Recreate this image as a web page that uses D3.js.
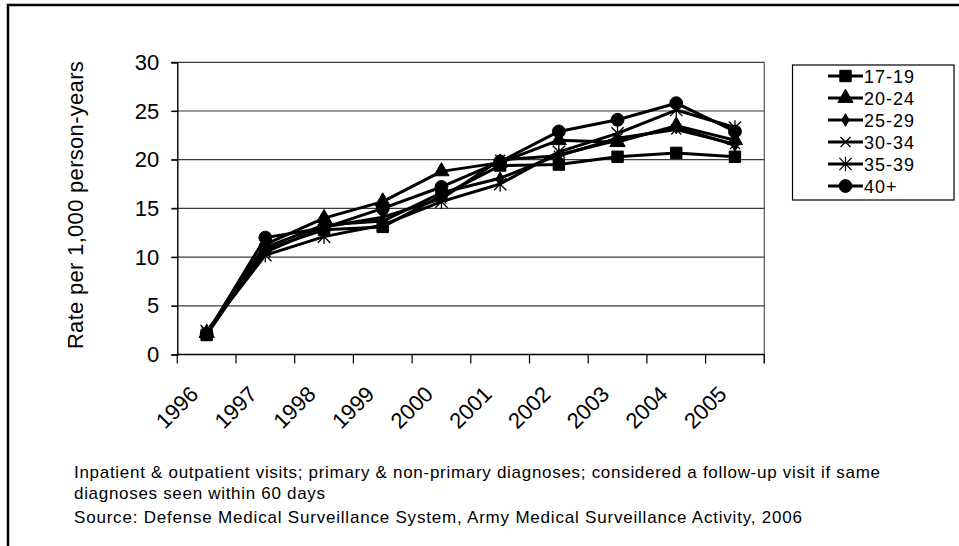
<!DOCTYPE html>
<html>
<head>
<meta charset="utf-8">
<script src="https://cdn.jsdelivr.net/npm/d3@7"></script>
<style>
  body { margin: 0; background: #fff; }
  svg { display: block; font-family: "Liberation Sans", Arial, sans-serif; }
</style>
</head>
<body>
<svg></svg>
<script>
// rate per 1,000 person-years by age group, 1996-2005
var years = ["1996", "1997", "1998", "1999", "2000", "2001", "2002", "2003", "2004", "2005"];
var groups = ["17-19", "20-24", "25-29", "30-34", "35-39", "40+"];

var rate1719 = [2.0, 10.8, 12.8, 13.1, 16.3, 19.4, 19.5, 20.3, 20.7, 20.3];
var rate2024 = [2.2, 11.3, 14.0, 15.7, 18.8, 19.7, 22.0, 21.8, 23.5, 22.0];
var rate2529 = [2.2, 11.0, 13.3, 13.7, 16.6, 18.1, 20.5, 22.0, 23.3, 21.5];
var rate3034 = [2.3, 10.5, 13.1, 14.1, 16.0, 20.0, 20.4, 22.2, 23.1, 21.6];
var rate3539 = [2.4, 10.2, 12.1, 13.3, 15.7, 17.5, 20.8, 22.7, 25.1, 23.3];
var rate40 = [2.1, 12.0, 13.0, 15.0, 17.2, 19.8, 22.9, 24.1, 25.8, 22.9];

var yTicks = [0, 5, 10, 15, 20, 25, 30];

var notes = [
  "Inpatient & outpatient visits; primary & non-primary diagnoses; considered a follow-up visit if same",
  "diagnoses seen within 60 days",
  "Source: Defense Medical Surveillance System, Army Medical Surveillance Activity, 2006"
];

var width = 959;
var height = 546;

// excel style markers
var crossX = {
  draw: function(ctx, size) {
    var r = Math.sqrt(size) / 2;
    ctx.moveTo(-r, -r); ctx.lineTo(r, r);
    ctx.moveTo(-r, r); ctx.lineTo(r, -r);
  }
};
var star = {
  draw: function(ctx, size) {
    var r = Math.sqrt(size) / 2;
    ctx.moveTo(-r, -r); ctx.lineTo(r, r);
    ctx.moveTo(-r, r); ctx.lineTo(r, -r);
    ctx.moveTo(0, -r * 1.2); ctx.lineTo(0, r * 1.2);
  }
};

var series = [
  { name: groups[0], values: rate1719, type: d3.symbolSquare, size: 130, fill: true },
  { name: groups[1], values: rate2024, type: d3.symbolTriangle, size: 100, fill: true },
  { name: groups[2], values: rate2529, type: d3.symbolDiamond, size: 45, fill: true },
  { name: groups[3], values: rate3034, type: crossX, size: 100, fill: false },
  { name: groups[4], values: rate3539, type: star, size: 150, fill: false },
  { name: groups[5], values: rate40, type: d3.symbolCircle, size: 130, fill: true }
];

var svg = d3.select("svg")
  .attr("width", width)
  .attr("height", height);

// outer frame
svg.append("rect")
  .attr("x", 8).attr("y", 5)
  .attr("width", 980).attr("height", 600)
  .attr("fill", "none")
  .attr("stroke", "#000")
  .attr("stroke-width", 2.5);

var x = d3.scaleBand()
  .domain(years)
  .range([177.3, 764.3]);

var y = d3.scaleLinear()
  .domain([0, 30])
  .range([354.5, 62.3]);

// grid + plot border
svg.append("g")
  .selectAll("line")
  .data(yTicks.slice(1))
  .join("line")
    .attr("x1", 171.5)
    .attr("x2", x.range()[1])
    .attr("y1", d => y(d))
    .attr("y2", d => y(d))
    .attr("stroke", "#3a3a3a")
    .attr("stroke-width", 1.2);

svg.append("line")
  .attr("x1", x.range()[1]).attr("x2", x.range()[1])
  .attr("y1", y(30)).attr("y2", y(0) + 9)
  .attr("stroke", "#555")
  .attr("stroke-width", 1.2);

// y axis
var yAxis = svg.append("g")
  .attr("transform", "translate(" + x.range()[0] + ",0)")
  .call(d3.axisLeft(y).tickValues(yTicks).tickSize(6).tickPadding(12));
yAxis.select(".domain").attr("stroke", "#000").attr("stroke-width", 1.4);
yAxis.selectAll(".tick line").attr("stroke", "#000").attr("stroke-width", 1.2);
yAxis.selectAll("text")
  .style("font-size", "22px")
  .attr("fill", "#000")
  .attr("font-family", "Liberation Sans, Arial, sans-serif");

// x axis: ticks between categories
var bounds = years.map(d => x(d)).concat([x.range()[1]]);
svg.append("line")
  .attr("x1", x.range()[0]).attr("x2", x.range()[1])
  .attr("y1", y(0)).attr("y2", y(0))
  .attr("stroke", "#000")
  .attr("stroke-width", 1.4);
svg.append("g")
  .selectAll("line")
  .data(bounds)
  .join("line")
    .attr("x1", d => d).attr("x2", d => d)
    .attr("y1", y(0)).attr("y2", y(0) + 9)
    .attr("stroke", "#000")
    .attr("stroke-width", 1.2);

svg.append("g")
  .selectAll("text")
  .data(years)
  .join("text")
    .attr("transform", d => "translate(" + (x(d) + x.bandwidth() / 2 - 7) + "," + (y(0) + 41) + ") rotate(-45)")
    .attr("text-anchor", "end")
    .style("font-size", "22px")
    .text(d => d);

// y title
svg.append("text")
  .attr("transform", "translate(83," + 205 + ") rotate(-90)")
  .attr("text-anchor", "middle")
  .style("font-size", "22px")
  .style("letter-spacing", "0.3px")
  .text("Rate per 1,000 person-years");

// lines + markers
var cx = d => x(d) + x.bandwidth() / 2;
var line = d3.line()
  .x((v, i) => cx(years[i]))
  .y(v => y(v));

var g = svg.append("g");
series.forEach(function(s) {
  g.append("path")
    .datum(s.values)
    .attr("d", line)
    .attr("fill", "none")
    .attr("stroke", "#000")
    .attr("stroke-width", 3)
    .attr("stroke-linejoin", "round");
});
series.forEach(function(s) {
  g.selectAll(null)
    .data(s.values)
    .join("path")
      .attr("transform", (v, i) => "translate(" + cx(years[i]) + "," + y(v) + ")")
      .attr("d", d3.symbol().type(s.type).size(s.size))
      .attr("fill", s.fill ? "#000" : "none")
      .attr("stroke", "#000")
      .attr("stroke-width", s.fill ? 1 : 1.3);
});

// legend
var legend = svg.append("g");
legend.append("rect")
  .attr("x", 792.5).attr("y", 65)
  .attr("width", 161.5).attr("height", 135)
  .attr("fill", "#fff")
  .attr("stroke", "#000")
  .attr("stroke-width", 1.2);

var item = legend.selectAll(".item")
  .data(series)
  .join("g")
    .attr("class", "item")
    .attr("transform", (d, i) => "translate(0," + (76 + i * 22) + ")");
item.append("line")
  .attr("x1", 828).attr("x2", 863)
  .attr("stroke", "#000")
  .attr("stroke-width", 3);
item.append("path")
  .attr("transform", "translate(845.5,0)")
  .attr("d", d => d3.symbol().type(d.type).size(d.size)())
  .attr("fill", d => d.fill ? "#000" : "none")
  .attr("stroke", "#000")
  .attr("stroke-width", d => d.fill ? 1 : 1.3);
item.append("text")
  .attr("x", 864)
  .attr("y", 6.5)
  .style("font-size", "18px")
  .style("letter-spacing", "1px")
  .text(d => d.name);

// notes
var noteWidths = [806, 251, 728];
svg.append("g")
  .selectAll("text")
  .data(notes)
  .join("text")
    .attr("x", 74)
    .attr("y", (d, i) => [477.5, 498.5, 523][i])
    .attr("textLength", (d, i) => noteWidths[i])
    .attr("lengthAdjust", "spacing")
    .style("font-size", "17px")
    .text(d => d);
</script>
</body>
</html>
